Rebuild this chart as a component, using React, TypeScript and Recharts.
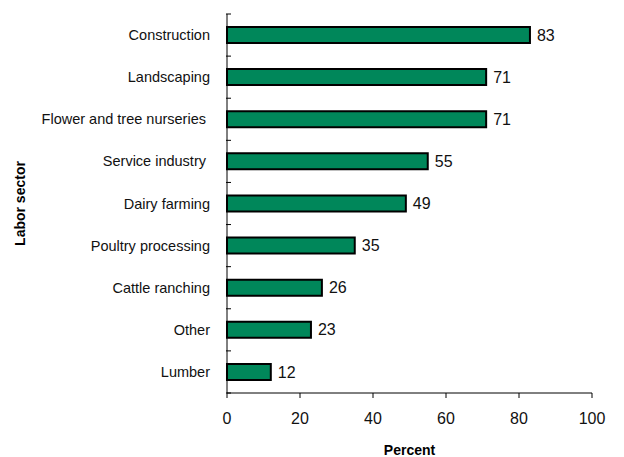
import React from 'react';
import { BarChart, Bar, XAxis, YAxis, LabelList } from 'recharts';

const sectors = [
  'Construction',
  'Landscaping',
  'Flower and tree nurseries ',
  'Service industry ',
  'Dairy farming',
  'Poultry processing',
  'Cattle ranching',
  'Other',
  'Lumber',
];
const percents = [83, 71, 71, 55, 49, 35, 26, 23, 12];
const xTicks = [0, 20, 40, 60, 80, 100];

const data = sectors.map((name, i) => ({ name, value: percents[i] }));

const FONT = '"Liberation Sans", Arial, sans-serif';
const BAND = (393 - 14) / sectors.length;

// category label at band centre, tick marks on the band boundaries
const SectorTick = (props: any) => {
  const { x, y, payload, index } = props;
  const axisX = x + 12;
  const top = y - BAND / 2;
  const bottom = y + BAND / 2;
  return (
    <g>
      <line x1={axisX - 5} x2={axisX} y1={top} y2={top} stroke="#000" />
      {index === sectors.length - 1 && (
        <line x1={axisX - 5} x2={axisX} y1={bottom} y2={bottom} stroke="#000" />
      )}
      <text
        x={x - 9}
        y={y}
        textAnchor="end"
        dominantBaseline="central"
        fontFamily={FONT}
        fontSize={14.5}
        fill="#111"
        style={{ whiteSpace: 'pre' }}
      >
        {payload.value}
      </text>
    </g>
  );
};

const renderYLabel = (props: any) => {
  const { viewBox } = props;
  const cy = viewBox.y + viewBox.height / 2;
  return (
    <text
      x={20}
      y={cy}
      transform={`rotate(-90, 20, ${cy})`}
      textAnchor="middle"
      dominantBaseline="central"
      fontFamily={FONT}
      fontSize={14}
      fontWeight="bold"
      fill="#000"
    >
      Labor sector
    </text>
  );
};

export default function App() {
  return (
    <div style={{ position: 'absolute', left: 0, top: 0, width: 624, height: 457, background: '#fff' }}>
      <BarChart
        width={624}
        height={457}
        layout="vertical"
        data={data}
        margin={{ top: 14, right: 32, left: 27, bottom: 0 }}
        barCategoryGap={12}
      >
        <XAxis
          type="number"
          domain={[0, 100]}
          ticks={xTicks}
          height={64}
          stroke="#000"
          tickSize={5}
          tickMargin={15}
          tick={{ fill: '#111', fontFamily: FONT, fontSize: 16 }}
          label={{
            value: 'Percent',
            position: 'insideBottom',
            offset: 2,
            fill: '#000',
            fontFamily: FONT,
            fontSize: 14,
            fontWeight: 'bold',
          }}
        />
        <YAxis
          type="category"
          dataKey="name"
          width={200}
          stroke="#000"
          tickLine={false}
          tick={<SectorTick />}
          interval={0}
          label={{ content: renderYLabel }}
        />
        <Bar
          dataKey="value"
          fill="#00875A"
          stroke="#000"
          strokeWidth={2}
          barSize={16}
          isAnimationActive={false}
        >
          <LabelList
            dataKey="value"
            position="right"
            offset={7}
            fill="#111"
            fontFamily={FONT}
            fontSize={16}
          />
        </Bar>
      </BarChart>
    </div>
  );
}
